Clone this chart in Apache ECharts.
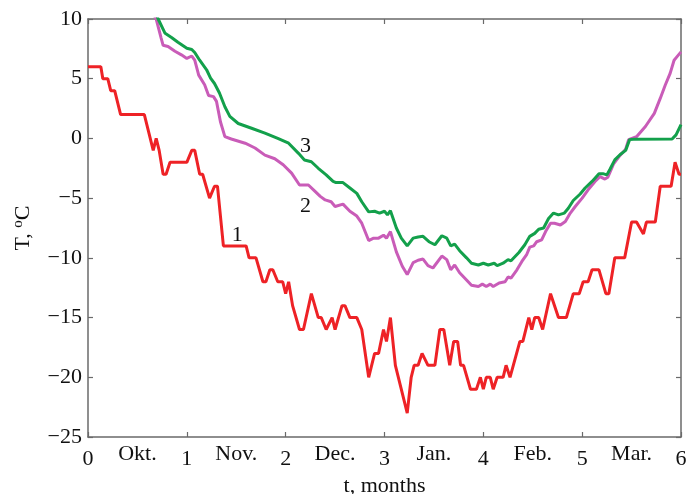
<!DOCTYPE html>
<html>
<head>
<meta charset="utf-8">
<script src="https://cdn.jsdelivr.net/npm/echarts@6/dist/echarts.min.js"></script>
<style>
html,body{margin:0;padding:0;background:#fff;}
#chart{width:686px;height:494px;}
</style>
</head>
<body>
<div id="chart"></div>
<script>
// ---- data ----
const monthNames = ['Okt.', 'Nov.', 'Dec.', 'Jan.', 'Feb.', 'Mar.'];
const xTicks = [0, 1, 2, 3, 4, 5, 6];
const yTicks = [-25, -20, -15, -10, -5, 0, 5, 10];

// curve 1 (red): [t, T]
const curve1 = [[0,6],[0.13,6],[0.15,5],[0.2,5],[0.23,4],[0.27,4],[0.33,2],[0.57,2],[0.66,-1],[0.69,0],[0.72,-1],[0.76,-3],[0.79,-3],[0.83,-2],[1.0,-2],[1.05,-1],[1.08,-1],[1.13,-3],[1.16,-3],[1.23,-5],[1.28,-4],[1.31,-4],[1.37,-9],[1.60,-9],[1.63,-10],[1.70,-10],[1.77,-12],[1.80,-12],[1.84,-11],[1.87,-11],[1.92,-12],[1.97,-12],[2.0,-13],[2.03,-12],[2.07,-14],[2.09,-14],[2.14,-16],[2.18,-16],[2.26,-13],[2.33,-15],[2.36,-15],[2.41,-16],[2.43,-16],[2.47,-15],[2.50,-16],[2.57,-14],[2.60,-14],[2.65,-15],[2.72,-15],[2.77,-16],[2.84,-20],[2.90,-18],[2.94,-18],[2.99,-16],[3.02,-17],[3.06,-15],[3.11,-19],[3.23,-23],[3.27,-20],[3.30,-19],[3.34,-19],[3.38,-18],[3.40,-18],[3.44,-19],[3.51,-19],[3.56,-16],[3.60,-16],[3.66,-19],[3.70,-17],[3.74,-17],[3.77,-19],[3.80,-19],[3.87,-21],[3.93,-21],[3.97,-20],[4.00,-21],[4.03,-20],[4.07,-20],[4.10,-21],[4.14,-20],[4.20,-20],[4.23,-19],[4.27,-20],[4.37,-17],[4.40,-17],[4.46,-15],[4.49,-16],[4.52,-15],[4.56,-15],[4.60,-16],[4.68,-13],[4.76,-15],[4.84,-15],[4.91,-13],[4.97,-13],[5.01,-12],[5.06,-12],[5.10,-11],[5.17,-11],[5.24,-13],[5.27,-13],[5.33,-10],[5.43,-10],[5.50,-7],[5.55,-7],[5.62,-8],[5.65,-7],[5.74,-7],[5.79,-4],[5.90,-4],[5.94,-2],[5.98,-3],[6,-3]];

// curve 2 (magenta)
const curve2 = [[0.62,11],[0.69,10],[0.74,8.4],[0.76,7.8],[0.81,7.7],[0.88,7.3],[0.945,7.0],[1.0,6.7],[1.05,6.9],[1.08,6.55],[1.12,5.3],[1.18,4.5],[1.22,3.6],[1.27,3.5],[1.30,3.1],[1.34,1.4],[1.385,0.15],[1.45,-0.05],[1.59,-0.4],[1.69,-0.8],[1.79,-1.4],[1.89,-1.7],[1.975,-2.2],[2.06,-2.9],[2.14,-3.9],[2.23,-3.9],[2.30,-4.45],[2.35,-4.85],[2.40,-5.15],[2.46,-5.3],[2.50,-5.7],[2.58,-5.5],[2.65,-6.1],[2.72,-6.5],[2.77,-7.1],[2.84,-8.55],[2.89,-8.35],[2.94,-8.35],[2.99,-8.1],[3.02,-8.35],[3.06,-7.8],[3.12,-9.5],[3.18,-10.7],[3.23,-11.4],[3.29,-10.4],[3.34,-10.2],[3.39,-10.1],[3.44,-10.65],[3.49,-10.85],[3.58,-9.85],[3.63,-10.15],[3.67,-11.0],[3.71,-10.6],[3.76,-11.25],[3.83,-11.85],[3.88,-12.3],[3.95,-12.4],[3.99,-12.2],[4.03,-12.4],[4.07,-12.2],[4.10,-12.4],[4.16,-12.1],[4.22,-12.0],[4.25,-11.6],[4.28,-11.7],[4.34,-11.0],[4.39,-10.3],[4.44,-9.7],[4.47,-9.1],[4.51,-9.0],[4.54,-8.65],[4.59,-8.5],[4.63,-7.8],[4.68,-7.1],[4.72,-7.1],[4.78,-7.25],[4.83,-6.95],[4.88,-6.25],[4.93,-5.7],[5.0,-5.0],[5.06,-4.3],[5.13,-3.6],[5.18,-3.2],[5.23,-3.4],[5.26,-3.25],[5.32,-2.1],[5.385,-1.4],[5.44,-0.9],[5.47,-0.1],[5.55,0.15],[5.64,1.0],[5.73,2.1],[5.79,3.35],[5.84,4.45],[5.89,5.45],[5.93,6.55],[5.96,6.85],[6.0,7.25]];

// curve 3 (green)
const curve3 = [[0.66,11],[0.71,10],[0.73,9.9],[0.78,8.8],[0.845,8.45],[0.91,8.05],[1.0,7.55],[1.05,7.45],[1.08,7.2],[1.13,6.55],[1.20,5.75],[1.24,5.05],[1.28,4.6],[1.33,3.8],[1.385,2.65],[1.435,1.85],[1.52,1.25],[1.655,0.85],[1.79,0.45],[1.92,0.0],[2.03,-0.4],[2.13,-1.25],[2.19,-1.8],[2.26,-1.95],[2.33,-2.5],[2.41,-3.05],[2.48,-3.6],[2.51,-3.7],[2.58,-3.7],[2.65,-4.15],[2.72,-4.6],[2.77,-5.3],[2.84,-6.15],[2.90,-6.1],[2.95,-6.25],[3.0,-6.1],[3.03,-6.4],[3.06,-6.05],[3.12,-7.5],[3.17,-8.35],[3.23,-9.0],[3.29,-8.35],[3.34,-8.25],[3.39,-8.2],[3.45,-8.65],[3.51,-8.9],[3.58,-8.15],[3.63,-8.35],[3.67,-9.0],[3.71,-8.85],[3.76,-9.4],[3.83,-10.0],[3.88,-10.45],[3.95,-10.6],[4.0,-10.45],[4.05,-10.6],[4.11,-10.45],[4.14,-10.65],[4.20,-10.45],[4.25,-10.15],[4.28,-10.25],[4.36,-9.55],[4.42,-8.9],[4.47,-8.2],[4.52,-7.95],[4.56,-7.6],[4.61,-7.5],[4.66,-6.7],[4.71,-6.25],[4.76,-6.4],[4.82,-6.25],[4.86,-5.85],[4.91,-5.2],[4.98,-4.65],[5.03,-4.15],[5.10,-3.6],[5.17,-2.95],[5.21,-2.95],[5.25,-3.05],[5.28,-2.6],[5.33,-1.8],[5.385,-1.35],[5.44,-1.0],[5.48,-0.1],[5.52,-0.07],[5.91,-0.05],[5.95,0.3],[6.0,1.15]];

// curve number annotations: [t, T, text]
const curveLabels = [[1.51, -8.1, '1'], [2.2, -5.65, '2'], [2.2, -0.65, '3']];

// ---- chart ----
const FONT = '"Liberation Serif", "DejaVu Serif", serif';
const AXIS_COLOR = '#6a6a6a';
const TEXT = '#111';
const minus = v => String(v).replace('-', '\u2212');

const chart = echarts.init(document.getElementById('chart'), null, {renderer: 'canvas'});

const lineCommon = {
  type: 'line', showSymbol: false, symbol: 'none', smooth: false,
  clip: true, animation: false, z: 3
};

function labelPoint(item) {
  return {
    silent: true, animation: false,
    symbol: 'circle', symbolSize: 1,
    itemStyle: {color: 'rgba(0,0,0,0)'},
    label: {show: true, position: 'inside', fontFamily: FONT, fontSize: 22, color: TEXT,
            formatter: p => p.name},
    data: [{name: item[2], coord: [item[0], item[1]]}]
  };
}

const frameLine = {show: true, onZero: false, lineStyle: {color: AXIS_COLOR, width: 1.5}};
const frameTick = {show: true, inside: true, length: 5, lineStyle: {color: AXIS_COLOR, width: 1.2}};

const option = {
  backgroundColor: '#fff',
  animation: false,
  grid: {left: 88, right: 5, top: 19, bottom: 57, containLabel: false, outerBoundsMode: 'none'},
  xAxis: [
    {
      type: 'value', min: xTicks[0], max: xTicks[xTicks.length - 1], interval: 1,
      position: 'bottom',
      axisLine: frameLine, axisTick: frameTick,
      splitLine: {show: false},
      axisLabel: {fontFamily: FONT, fontSize: 22, color: TEXT, margin: 11, formatter: v => minus(v)},
      name: 't, months', nameLocation: 'middle', nameGap: 38,
      nameTextStyle: {fontFamily: FONT, fontSize: 22, color: TEXT}
    },
    {
      type: 'value', min: 0, max: 6, interval: 0.5, position: 'bottom',
      axisLine: {show: false, onZero: false}, axisTick: {show: false}, splitLine: {show: false},
      axisLabel: {fontFamily: FONT, fontSize: 22, color: TEXT, margin: 6,
        formatter: v => (Math.abs(v % 1 - 0.5) < 1e-6) ? monthNames[Math.floor(v)] : ''}
    },
    {
      type: 'value', min: 0, max: 6, interval: 1, position: 'top',
      axisLine: frameLine, axisTick: frameTick,
      axisLabel: {show: false}, splitLine: {show: false}
    }
  ],
  yAxis: [
    {
      type: 'value', min: yTicks[0], max: yTicks[yTicks.length - 1], interval: 5,
      position: 'left',
      axisLine: frameLine, axisTick: frameTick,
      splitLine: {show: false},
      axisLabel: {fontFamily: FONT, fontSize: 22, color: TEXT, margin: 6, formatter: v => minus(v)},
      name: 'T, {s|o}C', nameLocation: 'middle', nameGap: 52, nameRotate: 90,
      nameTextStyle: {fontFamily: FONT, fontSize: 22, color: TEXT,
        rich: {s: {fontFamily: FONT, fontSize: 15, color: TEXT, padding: [0, 0, 10, 0]}}}
    },
    {
      type: 'value', min: -25, max: 10, interval: 5, position: 'right',
      axisLine: frameLine, axisTick: frameTick,
      axisLabel: {show: false}, splitLine: {show: false}
    }
  ],
  series: [
    Object.assign({}, lineCommon, {
      name: '1', data: curve1, lineStyle: {color: '#ee2226', width: 3},
      itemStyle: {color: '#ee2226'}, markPoint: labelPoint(curveLabels[0])
    }),
    Object.assign({}, lineCommon, {
      name: '2', data: curve2, lineStyle: {color: '#c95cb8', width: 3},
      itemStyle: {color: '#c95cb8'}, markPoint: labelPoint(curveLabels[1])
    }),
    Object.assign({}, lineCommon, {
      name: '3', data: curve3, lineStyle: {color: '#13a04b', width: 3},
      itemStyle: {color: '#13a04b'}, markPoint: labelPoint(curveLabels[2])
    })
  ]
};

chart.setOption(option);
</script>
</body>
</html>
